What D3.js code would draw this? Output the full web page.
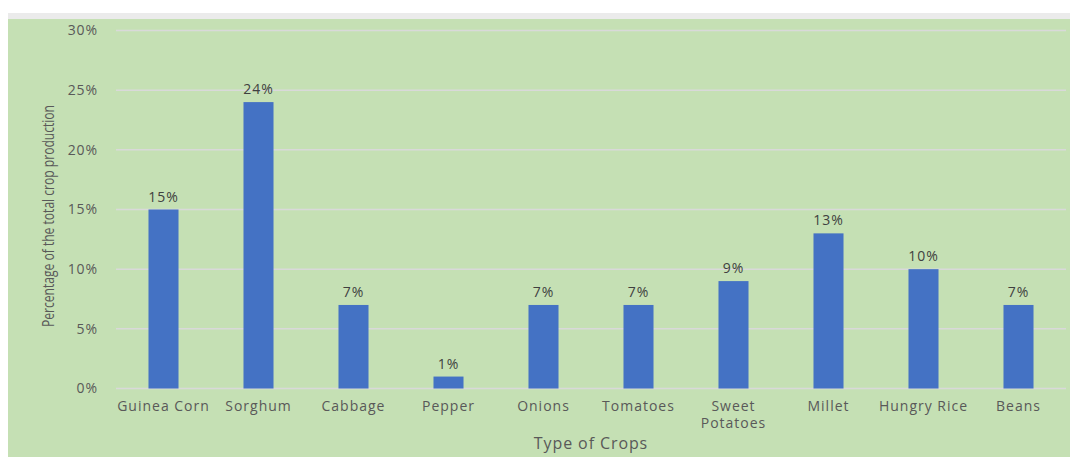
<!DOCTYPE html>
<html>
<head>
<meta charset="utf-8">
<script src="https://cdn.jsdelivr.net/npm/d3@7"></script>
<style>
  html, body { margin: 0; padding: 0; background: #ffffff; }
  svg { display: block; }
  text { font-family: "Open Sans", "Noto Sans", sans-serif; }
</style>
</head>
<body>
<svg id="chart" width="1070" height="457"></svg>
<script>
// Share of total crop production by crop type
const crops = ["Guinea Corn", "Sorghum", "Cabbage", "Pepper", "Onions", "Tomatoes", "Sweet Potatoes", "Millet", "Hungry Rice", "Beans"];
const shares = [0.15, 0.24, 0.07, 0.01, 0.07, 0.07, 0.09, 0.13, 0.10, 0.07];
const yTicks = [0, 0.05, 0.10, 0.15, 0.20, 0.25, 0.30];

const W = 1070, H = 457;
const margin = { top: 30.5, right: 4, bottom: 68.5, left: 116 };
const svg = d3.select("#chart");

// page band and chart area background
svg.append("rect").attr("x", 8).attr("y", 13).attr("width", W - 8).attr("height", 7).attr("fill", "#ebebeb");
svg.append("rect").attr("x", 8).attr("y", 19).attr("width", W - 8).attr("height", H - 19).attr("fill", "#c5e0b4");

const x = d3.scaleBand().domain(crops).range([margin.left, W - margin.right]).paddingInner(0.684).paddingOuter(0.342);
const y = d3.scaleLinear().domain([0, 0.30]).range([H - margin.bottom, margin.top]);

// gridlines
svg.append("g").selectAll("line").data(yTicks).join("line")
  .attr("x1", margin.left).attr("x2", W - margin.right)
  .attr("y1", d => y(d)).attr("y2", d => y(d))
  .attr("stroke", "#d9d9d9").attr("stroke-width", 1.5);

// y axis tick labels
const yAxis = d3.axisLeft(y).tickValues(yTicks).tickFormat(d3.format(".0%")).tickSize(0).tickPadding(18);
const gy = svg.append("g").attr("transform", `translate(${margin.left},0)`).call(yAxis);
gy.select(".domain").remove();
gy.selectAll("text").attr("fill", "#595959").style("font-size", "14px").style("font-family", "Open Sans, sans-serif").attr("letter-spacing", "0.9");

// bars
svg.append("g").selectAll("rect").data(crops).join("rect")
  .attr("x", d => x(d)).attr("width", x.bandwidth())
  .attr("y", (d, i) => y(shares[i])).attr("height", (d, i) => y(0) - y(shares[i]))
  .attr("fill", "#4472c4");

// value labels
svg.append("g").selectAll("text").data(crops).join("text")
  .attr("x", d => x(d) + x.bandwidth() / 2)
  .attr("y", (d, i) => y(shares[i]) - 8)
  .attr("text-anchor", "middle")
  .attr("fill", "#404040").style("font-size", "14px").attr("letter-spacing", "0.9")
  .text((d, i) => d3.format(".0%")(shares[i]));

// x axis category labels; "Sweet Potatoes" is split into two separate lines
const xAxis = d3.axisBottom(x).tickSize(0).tickPadding(0).tickFormat("");
const gx = svg.append("g").attr("transform", `translate(0,${y(0)})`).call(xAxis);
gx.select(".domain").remove();
const labelLines = crops.flatMap(d => {
  const parts = d === "Sweet Potatoes" ? ["Sweet", "Potatoes"] : [d];
  return parts.map((text, line) => ({ crop: d, text, line }));
});
svg.append("g").selectAll("text").data(labelLines).join("text")
  .attr("x", d => x(d.crop) + x.bandwidth() / 2)
  .attr("y", d => y(0) + 22 + d.line * 17)
  .attr("text-anchor", "middle")
  .attr("fill", "#595959").style("font-size", "14px").attr("letter-spacing", "1")
  .text(d => d.text);

// axis titles
svg.append("text")
  .attr("transform", `translate(54,216) rotate(-90)`)
  .attr("text-anchor", "middle")
  .attr("fill", "#595959")
  .style("font-size", "16px")
  .attr("textLength", 222).attr("lengthAdjust", "spacingAndGlyphs")
  .text("Percentage of the total crop production");

svg.append("text")
  .attr("x", 591).attr("y", 449)
  .attr("text-anchor", "middle")
  .attr("fill", "#595959").style("font-size", "16px").attr("letter-spacing", "0.9")
  .text("Type of Crops");
</script>
</body>
</html>
